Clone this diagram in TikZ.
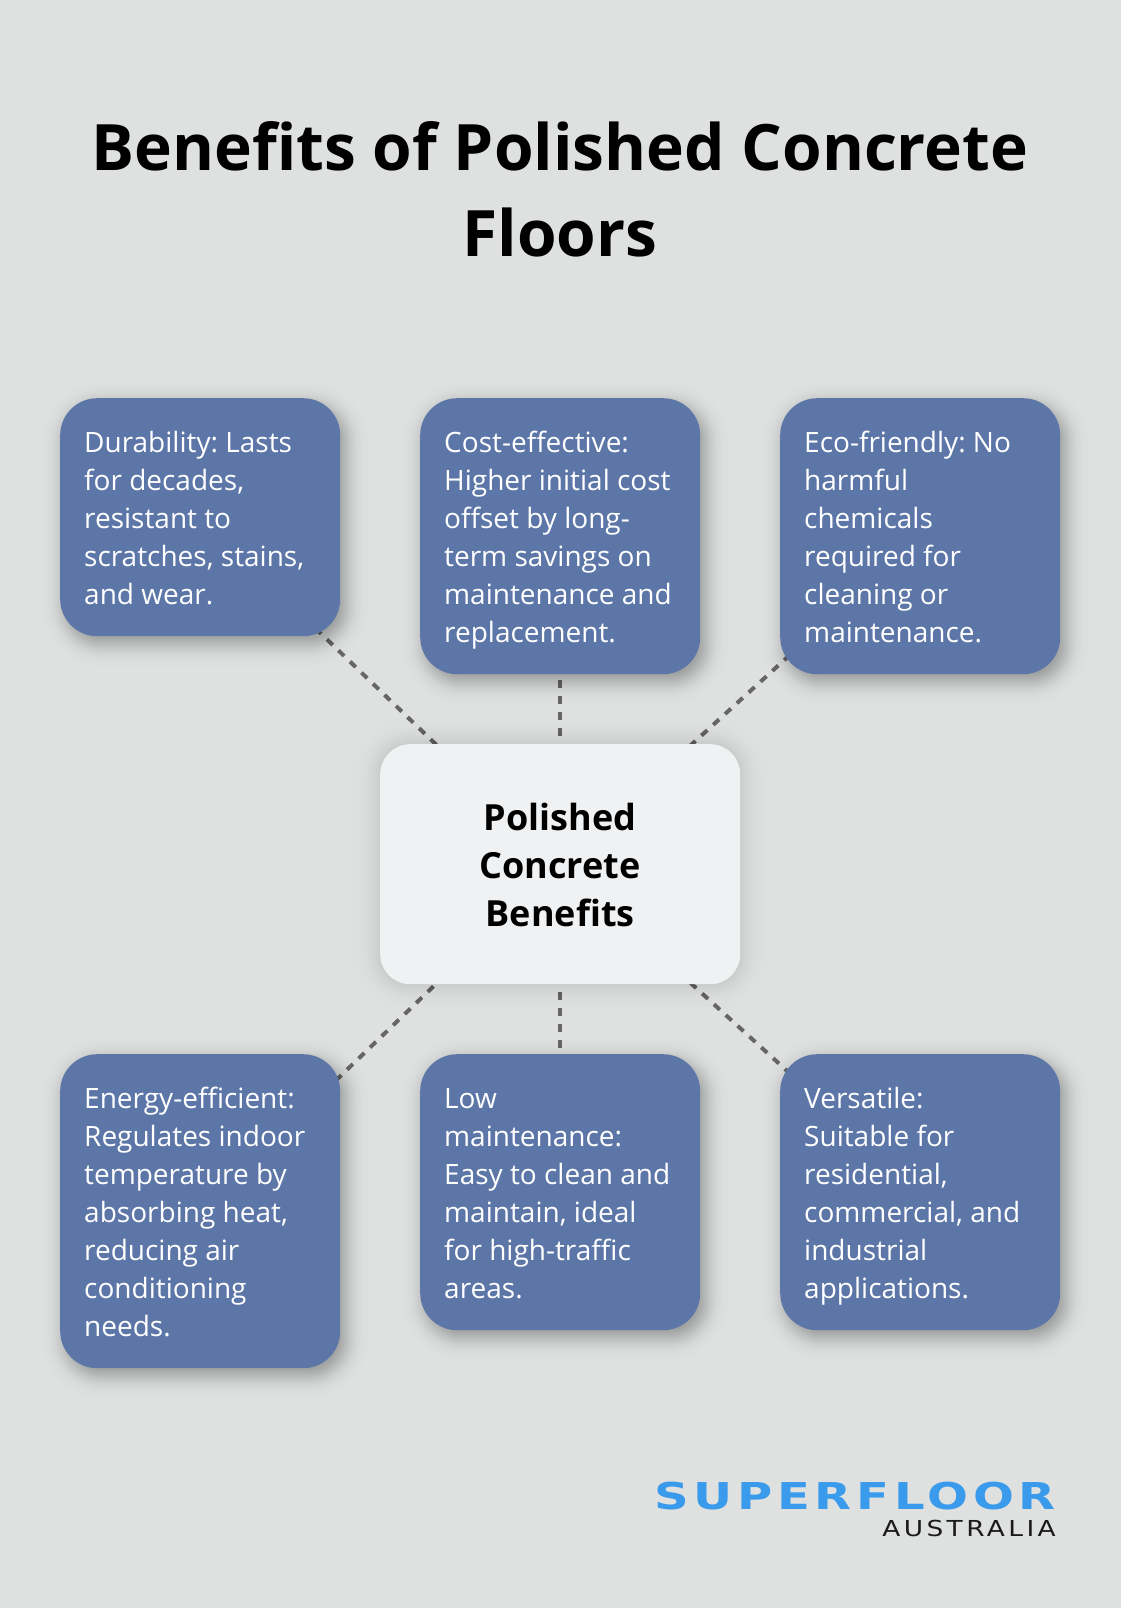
\documentclass[tikz,border=0pt]{standalone}
\usepackage{fontspec}
\setmainfont{Open Sans}
\newfontfamily\logofont[FakeStretch=1.3,LetterSpace=12.5]{DejaVu Sans}
\newfontfamily\logosub[FakeStretch=1.2,LetterSpace=15.5]{DejaVu Sans}
\usetikzlibrary{backgrounds}
\frenchspacing
\definecolor{bgc}{HTML}{DFE1E0}
\definecolor{boxc}{HTML}{5D76A8}
\definecolor{corec}{HTML}{F0F1F3}
\definecolor{linkc}{HTML}{666666}
\definecolor{logoc}{HTML}{3A9BEC}
\definecolor{logok}{HTML}{1A1A1A}
\newcommand{\bstrut}{\rule[-8pt]{0pt}{38pt}}
\newcommand{\cstrut}{\rule[-10pt]{0pt}{48pt}}
\newcommand{\softshadow}[6]{% node, dx, dy, spread, opacity, radius
  \foreach \e in {-2.24,-1.78,-1.53,-1.36,-1.21,-1.09,-0.98,-0.89,-0.8,-0.71,-0.64,-0.56,-0.49,-0.42,-0.35,-0.285,-0.22,-0.157,-0.094,-0.031,0.031,0.094,0.157,0.22,0.285,0.35,0.42,0.49,0.56,0.64,0.71,0.8,0.89,0.98,1.09,1.21,1.36,1.53,1.78,2.24}{
    \pgfmathsetmacro{\ee}{\e*#4}
    \pgfmathsetmacro{\rr}{max(#6+\ee,2)}
    \fill[black,opacity=#5,rounded corners=\rr pt]
      ([xshift={(#2-\ee)*1pt},yshift={(-#3-\ee)*1pt}]#1.south west) rectangle
      ([xshift={(#2+\ee)*1pt},yshift={(-#3+\ee)*1pt}]#1.north east);
  }
}
\tikzset{
  benefit/.style={anchor=north west,fill=boxc,text=white,rounded corners=37pt,inner sep=24pt,
    text width=232pt,align=flush left,font=\fontsize{28}{38}\selectfont},
  core/.style={anchor=north west,fill=corec,text=black,rounded corners=30pt,inner xsep=48pt,inner ysep=48pt,
    text width=264pt,align=flush center,font=\fontsize{36}{48}\selectfont\bfseries},
  link/.style={draw=linkc,line width=4pt,dash pattern=on 8pt off 8pt},
  headline/.style={text=black,align=flush center,text width=1060pt,font=\fontsize{64}{86}\selectfont\bfseries},
}
\begin{document}
\begin{tikzpicture}[x=1pt,y=-1pt]
\useasboundingbox (0,0) rectangle (1120,1608);
\node[headline] (title) at (560,189) {Benefits of Polished Concrete\\Floors};
\node[benefit] (b1) at (60,398) {\bstrut Durability: Lasts\\for decades,\\resistant to\\scratches, stains,\\and wear.\bstrut};
\node[benefit] (b2) at (420,398) {\bstrut Cost-effective:\\Higher initial cost\\offset by long-\\term savings on\\maintenance and\\replacement.\bstrut};
\node[benefit] (b3) at (780,398) {\bstrut Eco-friendly: No\\harmful\\chemicals\\required for\\cleaning or\\maintenance.\bstrut};
\node[benefit] (b4) at (60,1054) {\bstrut Energy-efficient:\\Regulates indoor\\temperature by\\absorbing heat,\\reducing air\\conditioning\\needs.\bstrut};
\node[benefit] (b5) at (420,1054) {\bstrut Low\\maintenance:\\Easy to clean and\\maintain, ideal\\for high-traffic\\areas.\bstrut};
\node[benefit] (b6) at (780,1054) {\bstrut Versatile:\\Suitable for\\residential,\\commercial, and\\industrial\\applications.\bstrut};
\node[core] (c) at (380,744) {\cstrut Polished\\Concrete\\Benefits\cstrut};
\node[anchor=base east,inner sep=0pt,text=logoc,font=\logofont\bfseries\fontsize{37}{37}\selectfont] (logo) at (1056,1509) {SUPERFLOOR};
\node[anchor=base east,inner sep=0pt,text=logok,font=\logosub\fontsize{22}{22}\selectfont] (logo2) at (1056,1536) {AUSTRALIA};
\begin{scope}[on background layer]
  \fill[bgc] (-3,-3) rectangle (1123,1611);
  \draw[link] (b1.center) -- (c.center);
  \draw[link] (b2.center) -- (c.center);
  \draw[link] (b3.center) -- (c.center);
  \draw[link] (c.center) -- (b4.center);
  \draw[link] (c.center) -- (b5.center);
  \draw[link] (c.center) -- (b6.center);
  \softshadow{b1}{5}{7}{10}{0.0078}{37}
  \softshadow{b2}{5}{7}{10}{0.0078}{37}
  \softshadow{b3}{5}{7}{10}{0.0078}{37}
  \softshadow{b4}{5}{7}{10}{0.0078}{37}
  \softshadow{b5}{5}{7}{10}{0.0078}{37}
  \softshadow{b6}{5}{7}{10}{0.0078}{37}
  \softshadow{c}{0}{0}{12}{0.0055}{30}
\end{scope}
\end{tikzpicture}
\end{document}
